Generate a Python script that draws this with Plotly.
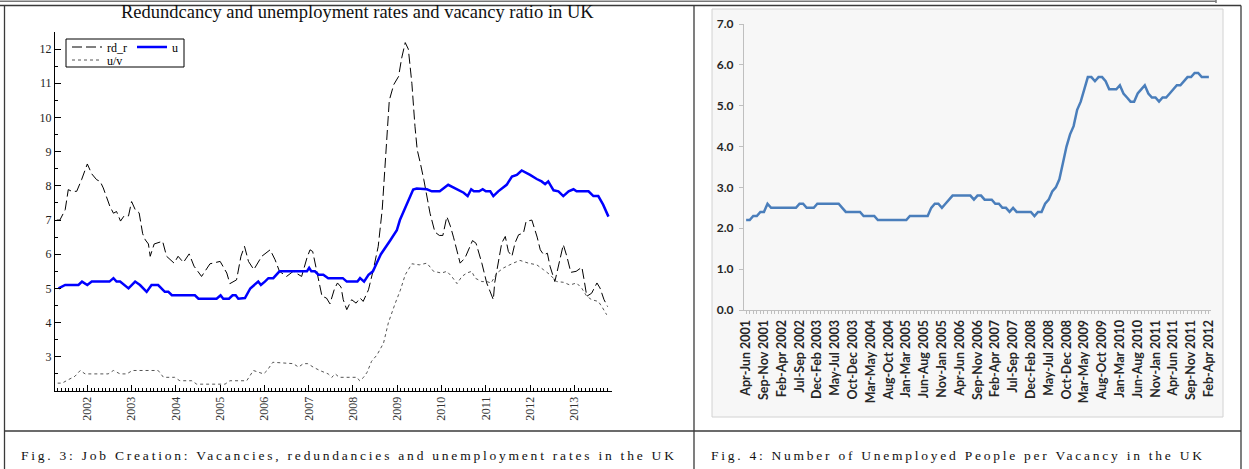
import plotly.graph_objects as go

# ---------------- data: left chart (decimal years) ----------------
rd_x = [2001.31, 2001.38, 2001.50, 2001.57, 2001.65, 2001.76, 2001.87, 2002.00, 2002.10, 2002.21,
        2002.29, 2002.36, 2002.51, 2002.59, 2002.66, 2002.75, 2002.83, 2002.93, 2003.00, 2003.08,
        2003.17, 2003.25, 2003.31, 2003.38, 2003.42, 2003.51, 2003.70, 2003.79, 2003.96, 2004.05,
        2004.17, 2004.30, 2004.41, 2004.58, 2004.77, 2005.00, 2005.15, 2005.22, 2005.37, 2005.47,
        2005.55, 2005.64, 2005.76, 2005.94, 2006.13, 2006.24, 2006.34, 2006.50, 2006.65, 2006.84,
        2006.96, 2007.03, 2007.09, 2007.17, 2007.30, 2007.40, 2007.48, 2007.58, 2007.65, 2007.73,
        2007.78, 2007.86, 2007.97, 2008.07, 2008.16, 2008.23, 2008.35, 2008.46, 2008.57, 2008.66,
        2008.74, 2008.82, 2008.92, 2009.03, 2009.10, 2009.18, 2009.25, 2009.33, 2009.40, 2009.45,
        2009.52, 2009.60, 2009.74, 2009.85, 2009.95, 2010.03, 2010.12, 2010.20, 2010.27, 2010.42,
        2010.53, 2010.63, 2010.70, 2010.78, 2010.91, 2011.02, 2011.17, 2011.20, 2011.25, 2011.36,
        2011.44, 2011.51, 2011.59, 2011.66, 2011.74, 2011.85, 2011.91, 2012.04, 2012.10, 2012.16,
        2012.23, 2012.31, 2012.39, 2012.45, 2012.56, 2012.66, 2012.75, 2012.83, 2012.92, 2013.04,
        2013.17, 2013.22, 2013.28, 2013.39, 2013.51, 2013.58, 2013.67, 2013.75]
rd_r = [7.0, 7.0, 7.3, 7.89, 7.84, 7.84, 8.18, 8.64, 8.35, 8.18,
        8.13, 7.94, 7.4, 7.2, 7.25, 6.97, 7.12, 7.12, 7.54, 7.31,
        7.21, 6.6, 6.42, 6.3, 5.94, 6.3, 6.38, 5.94, 5.74, 5.94,
        5.76, 6.01, 5.65, 5.35, 5.72, 5.79, 5.45, 5.14, 5.25, 5.94,
        6.23, 5.79, 5.55, 5.94, 6.13, 5.84, 5.5, 5.35, 5.5, 5.35,
        5.89, 6.13, 6.08, 5.55, 4.77, 4.72, 4.55, 4.98, 5.16, 5.04,
        4.67, 4.38, 4.67, 4.57, 4.72, 4.62, 4.96, 5.55, 6.23, 7.3,
        9.0, 10.5, 10.96, 11.2, 11.74, 12.19, 12.0, 11.0, 9.74, 9.06,
        8.67, 8.18, 7.2, 6.65, 6.55, 6.55, 7.1, 6.82, 6.5, 5.74,
        5.89, 6.18, 6.4, 6.32, 5.74, 5.16, 4.67, 5.16, 5.55, 6.33,
        6.52, 6.08, 5.94, 6.33, 6.57, 6.62, 6.96, 7.0, 6.75, 6.5,
        6.13, 5.98, 6.03, 5.65, 5.2, 5.74, 6.28, 5.94, 5.47, 5.5,
        5.62, 5.25, 4.77, 4.86, 5.16, 5.01, 4.67, 4.47]

u_x = [2001.35, 2001.50, 2001.80, 2001.88, 2002.00, 2002.10, 2002.50, 2002.59, 2002.66, 2002.74,
       2002.93, 2003.08, 2003.19, 2003.34, 2003.45, 2003.60, 2003.75, 2003.83, 2003.91, 2004.43,
       2004.51, 2004.92, 2005.01, 2005.07, 2005.20, 2005.28, 2005.35, 2005.41, 2005.56, 2005.68,
       2005.86, 2005.92, 2006.01, 2006.09, 2006.20, 2006.34, 2006.96, 2007.01, 2007.06, 2007.14,
       2007.22, 2007.33, 2007.44, 2007.77, 2007.86, 2008.10, 2008.16, 2008.25, 2008.35, 2008.45,
       2008.54, 2008.63, 2008.84, 2008.99, 2009.06, 2009.36, 2009.44, 2009.67, 2009.78, 2009.96,
       2010.15, 2010.27, 2010.38, 2010.50, 2010.59, 2010.67, 2010.73, 2010.85, 2010.93, 2011.00,
       2011.10, 2011.17, 2011.28, 2011.47, 2011.59, 2011.70, 2011.81, 2011.89, 2012.00, 2012.15,
       2012.26, 2012.34, 2012.41, 2012.53, 2012.64, 2012.75, 2012.87, 2012.98, 2013.05, 2013.32,
       2013.43, 2013.54, 2013.65, 2013.77]
u = [5.0, 5.1, 5.1, 5.2, 5.1, 5.2, 5.2, 5.3, 5.2, 5.2,
     5.0, 5.2, 5.1, 4.9, 5.1, 5.1, 4.9, 4.9, 4.8, 4.8,
     4.7, 4.7, 4.8, 4.7, 4.7, 4.8, 4.8, 4.7, 4.72, 5.0,
     5.2, 5.1, 5.2, 5.3, 5.3, 5.5, 5.5, 5.6, 5.5, 5.5,
     5.4, 5.4, 5.3, 5.3, 5.2, 5.2, 5.3, 5.2, 5.4, 5.5,
     5.75, 6.0, 6.4, 6.7, 7.0, 7.89, 7.92, 7.9, 7.84, 7.84,
     8.03, 7.95, 7.9, 7.8, 7.7, 7.9, 7.84, 7.84, 7.9, 7.84,
     7.84, 7.7, 7.84, 8.03, 8.27, 8.32, 8.45, 8.4, 8.32, 8.2,
     8.13, 8.05, 8.13, 7.87, 7.84, 7.7, 7.84, 7.9, 7.84, 7.84,
     7.7, 7.7, 7.45, 7.1]

uv_x = [2001.33, 2001.43, 2001.57, 2001.72, 2001.84, 2001.95, 2002.47, 2002.59, 2002.74, 2002.89,
        2003.02, 2003.60, 2003.72, 2003.97, 2004.09, 2004.36, 2004.47, 2005.11, 2005.22, 2005.60,
        2005.75, 2005.86, 2005.98, 2006.06, 2006.19, 2006.65, 2006.77, 2006.88, 2006.98, 2007.10,
        2007.25, 2007.44, 2007.52, 2007.60, 2007.69, 2008.09, 2008.15, 2008.24, 2008.32, 2008.42,
        2008.54, 2008.69, 2008.80, 2008.95, 2009.07, 2009.18, 2009.33, 2009.50, 2009.67, 2009.82,
        2010.00, 2010.12, 2010.23, 2010.35, 2010.46, 2010.57, 2010.68, 2010.76, 2010.91, 2011.02,
        2011.12, 2011.25, 2011.40, 2011.62, 2011.77, 2011.96, 2012.15, 2012.30, 2012.45, 2012.60,
        2012.75, 2012.90, 2013.05, 2013.17, 2013.28, 2013.39, 2013.54, 2013.62, 2013.73]
u_over_v = [2.23, 2.23, 2.33, 2.43, 2.6, 2.5, 2.5, 2.6, 2.5, 2.5,
            2.6, 2.6, 2.4, 2.4, 2.3, 2.3, 2.2, 2.2, 2.3, 2.3,
            2.6, 2.55, 2.5, 2.6, 2.84, 2.8, 2.7, 2.8, 2.8, 2.7,
            2.6, 2.5, 2.4, 2.5, 2.4, 2.4, 2.3, 2.4, 2.55, 2.87,
            3.05, 3.4, 4.0, 4.55, 4.95, 5.4, 5.72, 5.69, 5.74, 5.5,
            5.45, 5.5, 5.35, 5.14, 5.35, 5.45, 5.5, 5.3, 5.2, 5.2,
            5.16, 5.45, 5.6, 5.74, 5.82, 5.74, 5.69, 5.55, 5.4, 5.2,
            5.18, 5.1, 5.16, 5.0, 4.77, 4.67, 4.62, 4.47, 4.23]

year_ticks = list(range(2002, 2014))
left_y_ticks = [3, 4, 5, 6, 7, 8, 9, 10, 11, 12]

# ---------------- data: right chart (rolling quarters, monthly) ----------------
ratio = [2.2, 2.2, 2.3, 2.3, 2.4, 2.4, 2.6, 2.5, 2.5, 2.5,
         2.5, 2.5, 2.5, 2.5, 2.5, 2.6, 2.6, 2.5, 2.5, 2.5,
         2.6, 2.6, 2.6, 2.6, 2.6, 2.6, 2.6, 2.5, 2.4, 2.4,
         2.4, 2.4, 2.4, 2.3, 2.3, 2.3, 2.3, 2.2, 2.2, 2.2,
         2.2, 2.2, 2.2, 2.2, 2.2, 2.2, 2.3, 2.3, 2.3, 2.3,
         2.3, 2.3, 2.5, 2.6, 2.6, 2.5, 2.6, 2.7, 2.8, 2.8,
         2.8, 2.8, 2.8, 2.8, 2.7, 2.8, 2.8, 2.7, 2.7, 2.7,
         2.6, 2.6, 2.5, 2.5, 2.4, 2.5, 2.4, 2.4, 2.4, 2.4,
         2.4, 2.3, 2.4, 2.4, 2.6, 2.7, 2.9, 3.0, 3.2, 3.6,
         4.0, 4.3, 4.5, 4.9, 5.1, 5.4, 5.7, 5.7, 5.6, 5.7,
         5.7, 5.6, 5.4, 5.4, 5.4, 5.5, 5.3, 5.2, 5.1, 5.1,
         5.3, 5.4, 5.5, 5.3, 5.2, 5.2, 5.1, 5.2, 5.2, 5.3,
         5.4, 5.5, 5.5, 5.6, 5.7, 5.7, 5.8, 5.8, 5.7, 5.7,
         5.7]
period_ticks = ["Apr-Jun 2001", "Sep-Nov 2001", "Feb-Apr 2002", "Jul-Sep 2002", "Dec-Feb 2003",
                "May-Jul 2003", "Oct-Dec 2003", "Mar-May 2004", "Aug-Oct 2004", "Jan-Mar 2005",
                "Jun-Aug 2005", "Nov-Jan 2005", "Apr-Jun 2006", "Sep-Nov 2006", "Feb-Apr 2007",
                "Jul-Sep 2007", "Dec-Feb 2008", "May-Jul 2008", "Oct-Dec 2008", "Mar-May 2009",
                "Aug-Oct 2009", "Jan-Mar 2010", "Jun-Aug 2010", "Nov-Jan 2011", "Apr-Jun 2011",
                "Sep-Nov 2011", "Feb-Apr 2012"]
months_per_tick = 5
right_y_ticks = [0, 1, 2, 3, 4, 5, 6, 7]

assert len(rd_x) == len(rd_r) and len(u_x) == len(u) and len(uv_x) == len(u_over_v)

# ---------------- figure ----------------
W, H = 1249, 469
def px(x):
    return x / W
def py(y):
    return 1 - y / H

SERIF = "Liberation Serif"
SANS = "Lato"

fig = go.Figure()
fig.add_trace(go.Scatter(x=rd_x, y=rd_r, name="rd_r", mode="lines",
                         line=dict(color="black", width=1, dash="10px,4px"),
                         xaxis="x", yaxis="y", legend="legend"))
fig.add_trace(go.Scatter(x=u_x, y=u, name="u", mode="lines",
                         line=dict(color="#0000ff", width=2.5),
                         xaxis="x", yaxis="y", legend="legend"))
fig.add_trace(go.Scatter(x=uv_x, y=u_over_v, name="u/v", mode="lines",
                         line=dict(color="#555555", width=1, dash="3px,3px"),
                         xaxis="x", yaxis="y", legend="legend2"))
month_idx = list(range(len(ratio)))
fig.add_trace(go.Scatter(x=month_idx, y=ratio, mode="lines", showlegend=False,
                         line=dict(color="#4a7ebb", width=2.5),
                         xaxis="x2", yaxis="y2"))

frame = "#3a3a3a"
shapes = [
    # Excel chart area of right figure
    dict(type="rect", xref="paper", yref="paper", x0=px(712), x1=px(1223), y0=py(417), y1=py(9),
         fillcolor="#f7f7f7", line=dict(color="#d2d2d2", width=1), layer="below"),
    # legend box of left figure
    dict(type="rect", xref="paper", yref="paper", x0=px(66), x1=px(184), y0=py(67), y1=py(39),
         fillcolor="white", line=dict(color="black", width=1), layer="above"),
    # table frame
    dict(type="line", xref="paper", yref="paper", x0=0, x1=px(1216), y0=py(1.2), y1=py(1.2),
         line=dict(color="#777777", width=1.5)),
    dict(type="line", xref="paper", yref="paper", x0=px(1216), x1=px(1216), y0=py(0), y1=py(3),
         line=dict(color="#777777", width=1.5)),
    dict(type="line", xref="paper", yref="paper", x0=0, x1=px(1241), y0=py(5.5), y1=py(5.5),
         line=dict(color=frame, width=1.3)),
    dict(type="line", xref="paper", yref="paper", x0=px(4.5), x1=px(4.5), y0=py(5.5), y1=0,
         line=dict(color=frame, width=1.3)),
    dict(type="line", xref="paper", yref="paper", x0=px(694), x1=px(694), y0=py(5.5), y1=0,
         line=dict(color=frame, width=1.3)),
    dict(type="line", xref="paper", yref="paper", x0=px(1241), x1=px(1241), y0=py(5.5), y1=0,
         line=dict(color=frame, width=1.3)),
    dict(type="line", xref="paper", yref="paper", x0=px(4.5), x1=px(1241), y0=py(431), y1=py(431),
         line=dict(color=frame, width=1.3)),
]

annotations = [
    dict(text="Redundcancy and unemployment rates and vacancy ratio in UK", xref="paper", yref="paper",
         x=px(357.5), y=py(11.5), xanchor="center", yanchor="middle", showarrow=False,
         font=dict(family=SERIF, size=18.5, color="#111111")),
    dict(text="Fig. 3: Job Creation: Vacancies, redundancies and unemployment rates in the UK",
         xref="paper", yref="paper", x=px(347.5), y=py(455), xanchor="center", yanchor="middle",
         showarrow=False, font=dict(family=SERIF, size=13.5, color="#111111")),
    dict(text="Fig. 4: Number of Unemployed People per Vacancy in the UK",
         xref="paper", yref="paper", x=px(956.5), y=py(455), xanchor="center", yanchor="middle",
         showarrow=False, font=dict(family=SERIF, size=13.5, color="#111111")),
]

fig.update_layout(
    template="none",
    width=W, height=H, autosize=False,
    margin=dict(l=0, r=0, t=0, b=0, pad=0),
    paper_bgcolor="white", plot_bgcolor="rgba(0,0,0,0)",
    showlegend=True,
    shapes=shapes, annotations=annotations,
    xaxis=dict(domain=[px(55), px(612)], range=[2001.27, 2013.85], anchor="y",
               showline=True, linecolor="black", linewidth=1, mirror=False,
               showgrid=False, zeroline=False, automargin=False,
               tickmode="array", tickvals=year_ticks, ticktext=[str(y) for y in year_ticks],
               ticks="inside", ticklen=6, tickcolor="black", tickwidth=1,
               tickangle=-90, tickfont=dict(family=SERIF, size=12, color="#333333"),
               minor=dict(tickmode="linear", tick0=2002, dtick=1 / 12, ticks="inside",
                          ticklen=3, tickcolor="black", tickwidth=1, showgrid=False)),
    yaxis=dict(domain=[py(391), py(32)], range=[2, 12.5], anchor="x",
               showline=True, linecolor="black", linewidth=1,
               showgrid=False, zeroline=False, automargin=False,
               tickmode="array", tickvals=left_y_ticks, ticktext=[str(v) for v in left_y_ticks],
               ticks="inside", ticklen=6, tickcolor="black", tickwidth=1,
               tickfont=dict(family=SERIF, size=12, color="#222222"),
               minor=dict(tickmode="linear", tick0=2, dtick=0.5, ticks="inside",
                          ticklen=3, tickcolor="black", tickwidth=1, showgrid=False)),
    xaxis2=dict(domain=[px(744), px(1211)], range=[-0.6, len(ratio) - 0.4], anchor="y2",
                showline=True, linecolor="#bfbfbf", linewidth=1,
                showgrid=False, zeroline=False, automargin=False,
                tickmode="array", tickvals=month_idx[::months_per_tick], ticktext=period_ticks,
                ticks="outside", ticklen=3, tickcolor="#bfbfbf", tickwidth=1,
                tickangle=-90, ticklabelstandoff=1,
                tickfont=dict(family=SANS, size=12.5, color="#262626", weight="bold"),
                minor=dict(tickmode="linear", tick0=0, dtick=1, ticks="outside",
                           ticklen=3, tickcolor="#bfbfbf", tickwidth=1, showgrid=False)),
    yaxis2=dict(domain=[py(310), py(24)], range=[0, 7], anchor="x2",
                showline=True, linecolor="#bfbfbf", linewidth=1,
                showgrid=False, zeroline=False, automargin=False,
                tickmode="array", tickvals=right_y_ticks, tickformat=".1f",
                ticks="outside", ticklen=4, tickcolor="#bfbfbf", tickwidth=1,
                ticklabelstandoff=3,
                tickfont=dict(family=SANS, size=12, color="#262626", weight="bold")),
    legend=dict(x=px(67), y=py(47), xanchor="left", yanchor="middle", orientation="h",
                bgcolor="rgba(0,0,0,0)", borderwidth=0, itemwidth=30, tracegroupgap=0,
                font=dict(family=SERIF, size=12, color="black")),
    legend2=dict(x=px(67), y=py(60), xanchor="left", yanchor="middle", orientation="h",
                 bgcolor="rgba(0,0,0,0)", borderwidth=0, itemwidth=30,
                 font=dict(family=SERIF, size=12, color="black")),
)

post = """
document.documentElement.style.margin = '0';
document.body.style.margin = '0';
document.body.style.padding = '0';
document.body.style.overflow = 'hidden';
var targets = [["Fig. 3", 653], ["Fig. 4", 491]];
document.querySelectorAll('text.annotation-text').forEach(function(t){
  var s = t.textContent || '';
  targets.forEach(function(p){
    if (s.indexOf(p[0]) === 0) {
      t.setAttribute('textLength', p[1]);
      t.setAttribute('lengthAdjust', 'spacing');
    }
  });
});
"""

fig.write_html("out.html", config={"displayModeBar": False}, post_script=post)
